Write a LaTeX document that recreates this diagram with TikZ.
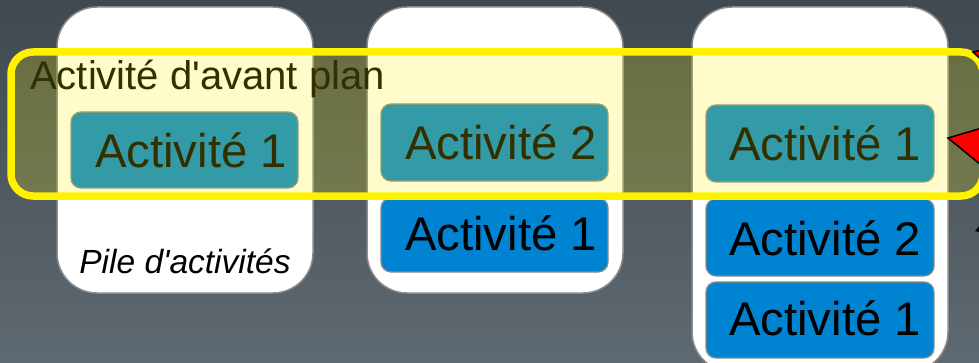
\documentclass[tikz,border=0pt]{standalone}
\usepackage{fontspec}
\setmainfont{Liberation Sans}
\definecolor{bgtop}{HTML}{404950}
\definecolor{bgbot}{HTML}{5F6971}
\definecolor{actblue}{HTML}{0084D1}
\definecolor{edgegray}{HTML}{8A8A8A}
\begin{document}
\begin{tikzpicture}[x=1pt,y=1pt,
  stack/.style={draw=edgegray, line width=1.5pt, fill=white, rounded corners=40pt, inner sep=0pt},
  act/.style={draw=edgegray, line width=1.3pt, fill=actblue, rounded corners=10pt, inner sep=0pt, minimum width=227pt},
  lbl/.style={font=\fontsize{47.3}{50}\selectfont, anchor=base, inner sep=0pt},
  framelabel/.style={font=\fontsize{40}{44}\selectfont, anchor=base west, inner sep=0pt},
  note/.style={font=\fontsize{33.5}{36}\selectfont\itshape, anchor=base, inner sep=0pt},
  fg/.style={draw=yellow, line width=7.5pt, rounded corners=22pt, fill=yellow, fill opacity=0.2},
  pointer/.style={fill=red, draw=black, line width=1.5pt, line join=miter},
]
\useasboundingbox (0,0) rectangle (979,362);
\clip (0,0) rectangle (979,362);
\shade[top color=bgtop, bottom color=bgbot] (0,0) rectangle (979,362);

% stacks
\node[stack, minimum width=256pt, minimum height=286pt] (p1) at (185,212) {};
\node[stack, minimum width=256pt, minimum height=286pt] (p2) at (495,212) {};
\node[stack, minimum width=256pt, minimum height=365pt] (p3) at (820,172.5) {};

% activities
\node[act, minimum height=76pt] (a11) at (184.5,212) {};
\node[act, minimum height=77pt] (a22) at (494.5,219.5) {};
\node[act, minimum height=74pt] (a21) at (494.5,127) {};
\node[act, minimum height=77pt, minimum width=228pt] (a31) at (820,218.5) {};
\node[act, minimum height=77pt, minimum width=228pt] (a32) at (820,124.5) {};
\node[act, minimum height=76pt, minimum width=228pt] (a33) at (820,42) {};

\node[lbl] (t11) at (191,195) {Activité 1};
\node[lbl] (t22) at (501,203) {Activité 2};
\node[lbl] (t21) at (501,112) {Activité 1};
\node[lbl] (t31) at (825,202) {Activité 1};
\node[lbl] (t32) at (825,107) {Activité 2};
\node[lbl] (t33) at (825,27) {Activité 1};

\node[note] (pile) at (185,89) {Pile d\textquotesingle activités};

% foreground activity frame
\node[framelabel] (avant) at (30,272) {Activité d\textquotesingle avant plan};
\draw[fg] (11,166) rectangle (983,310);

% pointers cut by the right edge
\coordinate (r1) at (948,224);
\coordinate (r2) at (992,237);
\coordinate (r3) at (992,188);
\draw[pointer] (r1) -- (r2) -- (r3) -- cycle;
\coordinate (s1) at (973,310);
\coordinate (s2) at (992,314);
\coordinate (s3) at (988,296);
\draw[pointer] (s1) -- (s2) -- (s3) -- cycle;
\coordinate (k1) at (975,131);
\coordinate (k2) at (982,139);
\coordinate (k3) at (982,129);
\fill[black] (k1) -- (k2) -- (k3) -- cycle;
\end{tikzpicture}
\end{document}
